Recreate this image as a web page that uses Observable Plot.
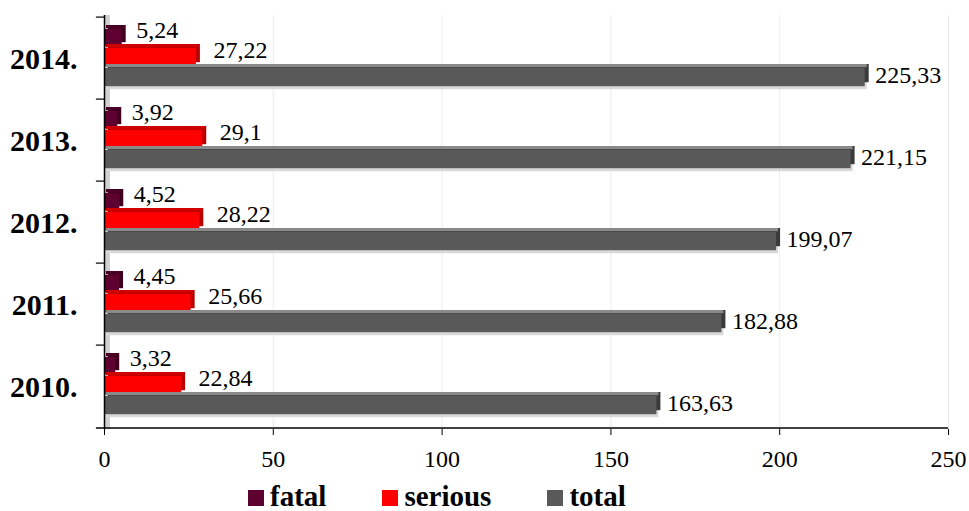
<!DOCTYPE html>
<html>
<head>
<meta charset="utf-8">
<script src="https://cdn.jsdelivr.net/npm/d3@7"></script>
<script src="https://cdn.jsdelivr.net/npm/@observablehq/plot@0.6"></script>
<style>
  html, body { margin: 0; padding: 0; background: #fff; }
  #wrap { width: 969px; font-family: "Liberation Serif", "Times New Roman", serif; }
  #chart svg { display: block; font-family: "Liberation Serif", "Times New Roman", serif; }
  #legend { display: flex; align-items: center; height: 30px; line-height: 30px; padding-left: 248px; margin-top: 11px;
            font-weight: bold; font-size: 29px; color: #000; }
  #legend .item { display: flex; align-items: center; margin-right: 56px; }
  #legend .sw { width: 16px; height: 16px; margin-right: 6px; margin-top: 3px; }
</style>
</head>
<body>
<div id="wrap">
  <div id="chart"></div>
  <div id="legend"></div>
</div>
<script>
const years = ["2014", "2013", "2012", "2011", "2010"];
const fatal = [5.24, 3.92, 4.52, 4.45, 3.32];
const serious = [27.22, 29.1, 28.22, 25.66, 22.84];
const total = [225.33, 221.15, 199.07, 182.88, 163.63];
const seriesNames = ["fatal", "serious", "total"];
const xTicks = [0, 50, 100, 150, 200, 250];

const colors = { fatal: "#5e0030", serious: "#ff0000", total: "#595959" };
const sideColors = { fatal: "#3f0020", serious: "#b80000", total: "#3a3a3a" };
const topColors = { fatal: "#4a0026", serious: "#d00000", total: "#8a8a8a" };

const rows = years.map((y, i) => ({ year: y, fatal: fatal[i], serious: serious[i], total: total[i] }));

const W = 969, H = 470, mT = 15, mB = 41, mL = 104, mR = 21;
const step = (H - mT - mB) / years.length;
const fmt = v => String(v).replace(".", ",");
const FONT = "Liberation Serif, Times New Roman, serif";

// layout of the three bars inside each year band (pixels from band top)
const layout = {
  fatal:   { top: 12, h: 18, labelDy: -28, labelDx: 14 },
  serious: { top: 31, h: 19, labelDy: -8, labelDx: 17 },
  total:   { top: 51, h: 19, labelDy: 17, labelDx: 10 }
};
const ins = s => ({ insetTop: layout[s].top, insetBottom: step - layout[s].top - layout[s].h });
const topIns = s => ({ insetTop: layout[s].top, insetBottom: step - layout[s].top - 4 });

const marks = [
  Plot.gridX(xTicks, { stroke: "#ececec", strokeOpacity: 1 }),
  Plot.ruleX([0], { stroke: "#d0d0d0", strokeWidth: 5, dx: 3 }),
  Plot.barX(rows, { y: "year", x: "total", fill: "#d8d8d8", dx: 2, dy: 3, ...ins("total") })
];
for (const s of seriesNames) {
  marks.push(Plot.barX(rows, { y: "year", x: s, fill: sideColors[s], dx: 4, dy: -4, ...ins(s) }));
  marks.push(Plot.barX(rows, { y: "year", x: s, fill: topColors[s], dx: 2, dy: -4, ...topIns(s) }));
  marks.push(Plot.barX(rows, { y: "year", x: s, fill: colors[s], ...ins(s) }));
}
for (const s of seriesNames) {
  marks.push(Plot.text(rows, {
    y: "year", x: s, text: d => fmt(d[s]), textAnchor: "start",
    dx: layout[s].labelDx, dy: layout[s].labelDy, fontSize: 24, fill: "#000", fontFamily: FONT
  }));
}
marks.push(
  Plot.ruleX([0], { stroke: "#000", strokeWidth: 1.5 }),
  Plot.ruleY(years, { y: d => d, x1: -2.4, x2: 0, dy: -step / 2, stroke: "#000", strokeWidth: 1.2 }),
  Plot.ruleY([years[years.length - 1]], { y: d => d, x1: -2.4, x2: xTicks[xTicks.length - 1], dy: step / 2, stroke: "#000", strokeWidth: 1.5 }),
  Plot.axisX({ ticks: xTicks, tickSize: 6, tickPadding: 14, fontSize: 24, tickFormat: d => String(d), label: null }),
  Plot.axisY({ tickSize: 0, tickPadding: 27, fontSize: 30, fontWeight: "bold", tickFormat: d => d + ".", dy: 1, label: null })
);

const chart = Plot.plot({
  width: W, height: H,
  marginTop: mT, marginBottom: mB, marginLeft: mL, marginRight: mR,
  style: { fontFamily: FONT, color: "#000", background: "#fff", overflow: "visible" },
  x: { domain: [0, 250], label: null },
  y: { domain: years, padding: 0, label: null },
  marks
});
document.getElementById("chart").appendChild(chart);

const legend = document.getElementById("legend");
for (const s of seriesNames) {
  const item = document.createElement("div");
  item.className = "item";
  const sw = document.createElement("span");
  sw.className = "sw";
  sw.style.background = colors[s];
  const t = document.createElement("span");
  t.textContent = s;
  item.appendChild(sw);
  item.appendChild(t);
  legend.appendChild(item);
}
</script>
</body>
</html>
